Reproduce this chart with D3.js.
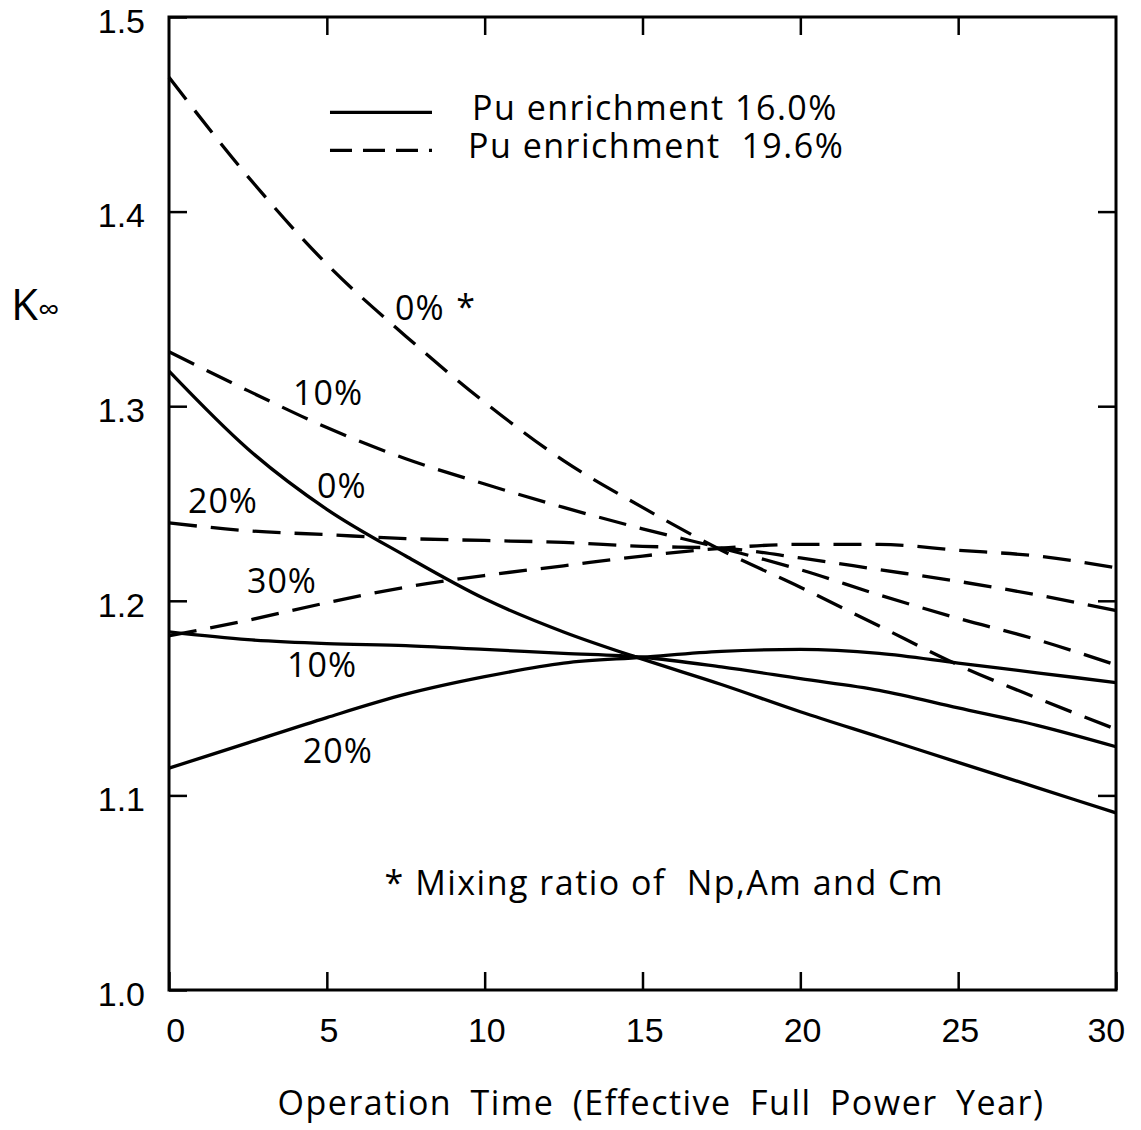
<!DOCTYPE html>
<html>
<head>
<meta charset="utf-8">
<script src="https://cdn.jsdelivr.net/npm/d3@7"></script>
<style>
  body { margin: 0; background: #fff; }
  svg { font-family: "Open Sans", "DejaVu Sans", sans-serif; }
</style>
</head>
<body>
<div class="chart"></div>
<script>
// operation time grid (EFPY)
const times = [0, 2.5, 5, 7.5, 10, 12.5, 15, 17.5, 20, 22.5, 25, 27.5, 30];

// Pu enrichment 16.0% (solid)
const solid0  = [1.318, 1.278, 1.247, 1.223, 1.201, 1.184, 1.170, 1.157, 1.143, 1.130, 1.117, 1.104, 1.091];
const solid10 = [1.184, 1.180, 1.178, 1.177, 1.175, 1.173, 1.171, 1.166, 1.160, 1.154, 1.145, 1.136, 1.125];
const solid20 = [1.114, 1.127, 1.140, 1.152, 1.161, 1.168, 1.171, 1.174, 1.175, 1.173, 1.168, 1.163, 1.158];

// Pu enrichment 19.6% (dashed)
const dash0  = [1.469, 1.418, 1.373, 1.336, 1.302, 1.272, 1.248, 1.226, 1.207, 1.187, 1.167, 1.150, 1.134];
const dash10 = [1.328, 1.308, 1.289, 1.273, 1.260, 1.248, 1.237, 1.227, 1.216, 1.203, 1.191, 1.180, 1.167];
const dash20 = [1.240, 1.236, 1.234, 1.232, 1.231, 1.230, 1.228, 1.227, 1.222, 1.216, 1.210, 1.203, 1.195];
const dash30 = [1.182, 1.190, 1.199, 1.207, 1.213, 1.218, 1.223, 1.227, 1.229, 1.229, 1.226, 1.223, 1.217];

const xTicks = [0, 5, 10, 15, 20, 25, 30];
const yTicks = [1.0, 1.1, 1.2, 1.3, 1.4, 1.5];

const width = 1141;
const height = 1130;
const margin = { top: 17, right: 25, bottom: 140, left: 169 };
const innerWidth = width - margin.left - margin.right;
const innerHeight = height - margin.top - margin.bottom;

const svg = d3.select(".chart")
  .append("svg")
  .attr("width", width)
  .attr("height", height);

const g = svg.append("g")
  .attr("transform", `translate(${margin.left},${margin.top})`);

const x = d3.scaleLinear().domain([0, 30]).range([0, innerWidth]);
const y = d3.scaleLinear().domain([1.0, 1.5]).range([innerHeight, 0]);

// frame
g.append("rect")
  .attr("width", innerWidth)
  .attr("height", innerHeight)
  .attr("fill", "none")
  .attr("stroke", "#000")
  .attr("stroke-width", 3);

// inward ticks on all four sides
const tickLen = 18;
const styleAxis = sel => {
  sel.select(".domain").remove();
  sel.selectAll(".tick line").attr("stroke", "#000").attr("stroke-width", 2.5);
  sel.selectAll(".tick text").attr("fill", "#000").style("font-size", "34px");
};
const noLabels = sel => {
  sel.select(".domain").remove();
  sel.selectAll(".tick text").remove();
  sel.selectAll(".tick line").attr("stroke", "#000").attr("stroke-width", 2.5);
};

g.append("g")
  .attr("transform", `translate(0,${innerHeight})`)
  .call(d3.axisBottom(x).tickValues(xTicks).tickSize(-tickLen).tickPadding(28))
  .call(styleAxis)
  .selectAll(".tick text").attr("dx", d => d === 0 ? "0.18em" : d === 30 ? "-0.3em" : "0.05em");

g.append("g")
  .call(d3.axisTop(x).tickValues(xTicks.slice(1, -1)).tickSize(-tickLen))
  .call(noLabels);

g.append("g")
  .call(d3.axisLeft(y).tickValues(yTicks).tickSize(-tickLen).tickPadding(24).tickFormat(d3.format(".1f")))
  .call(styleAxis)
  .selectAll(".tick text").attr("dy", "0.45em");

g.append("g")
  .attr("transform", `translate(${innerWidth},0)`)
  .call(d3.axisRight(y).tickValues(yTicks.slice(1, -1)).tickSize(-tickLen))
  .call(noLabels);

// curves
const line = d3.line()
  .x((d, i) => x(times[i]))
  .y(d => y(d))
  .curve(d3.curveMonotoneX);

const series = [
  { values: solid0, dashed: false },
  { values: solid10, dashed: false },
  { values: solid20, dashed: false },
  { values: dash0, dashed: true },
  { values: dash10, dashed: true },
  { values: dash20, dashed: true },
  { values: dash30, dashed: true }
];

g.selectAll(".curve")
  .data(series)
  .enter()
  .append("path")
  .attr("class", "curve")
  .attr("d", d => line(d.values))
  .attr("fill", "none")
  .attr("stroke", "#000")
  .attr("stroke-width", 3.3)
  .attr("stroke-dasharray", d => d.dashed ? "28,14" : null);

// curve labels (left edge / baseline)
const labels = [
  { t: 7.16, k: 1.3443, text: "0%" },
  { t: 3.93, k: 1.3006, text: "10%" },
  { t: 4.69, k: 1.2528, text: "0%" },
  { t: 0.60, k: 1.2451, text: "20%" },
  { t: 2.47, k: 1.2040, text: "30%" },
  { t: 3.74, k: 1.1608, text: "10%" },
  { t: 4.24, k: 1.1167, text: "20%" }
];

g.selectAll(".clabel")
  .data(labels)
  .enter()
  .append("text")
  .attr("class", "clabel")
  .attr("x", d => x(d.t))
  .attr("y", d => y(d.k))
  .style("font-size", "34px")
  .style("letter-spacing", "1px")
  .text(d => d.text);

g.append("text")
  .attr("x", x(9.1))
  .attr("y", y(1.345))
  .style("font-size", "34px")
  .text("*");

// legend
const legend = g.append("g").attr("transform", `translate(${x(5.1)},${y(1.451)})`);
legend.append("line")
  .attr("x1", 0).attr("x2", 102).attr("y1", 0).attr("y2", 0)
  .attr("stroke", "#000").attr("stroke-width", 3.3);
legend.append("line")
  .attr("x1", 0).attr("x2", 102).attr("y1", 38).attr("y2", 38)
  .attr("stroke", "#000").attr("stroke-width", 3.3)
  .attr("stroke-dasharray", "22,11");
legend.append("text")
  .attr("x", 142).attr("y", -4).attr("dy", "0.35em")
  .style("font-size", "34px")
  .style("letter-spacing", "1.5px")
  .text("Pu enrichment 16.0%");
legend.append("text")
  .attr("x", 138).attr("y", 34).attr("dy", "0.35em")
  .style("font-size", "34px")
  .style("letter-spacing", "1.5px")
  .style("white-space", "pre")
  .text("Pu enrichment  19.6%");

// footnote
g.append("text")
  .attr("x", x(6.83))
  .attr("y", y(1.055))
  .attr("dy", "0.35em")
  .style("font-size", "34px")
  .style("letter-spacing", "1.5px")
  .style("white-space", "pre")
  .text("* Mixing ratio of  Np,Am and Cm");

// axis titles
svg.append("text")
  .attr("x", 661)
  .attr("y", 1115)
  .attr("text-anchor", "middle")
  .style("font-size", "34px")
  .style("letter-spacing", "1.5px")
  .style("word-spacing", "8px")
  .text("Operation Time (Effective Full Power Year)");

const kLabel = svg.append("text")
  .attr("x", 11)
  .attr("y", 320);
kLabel.append("tspan").style("font-size", "44px").text("K");
kLabel.append("tspan").style("font-size", "30px").text("∞");
</script>
</body>
</html>
